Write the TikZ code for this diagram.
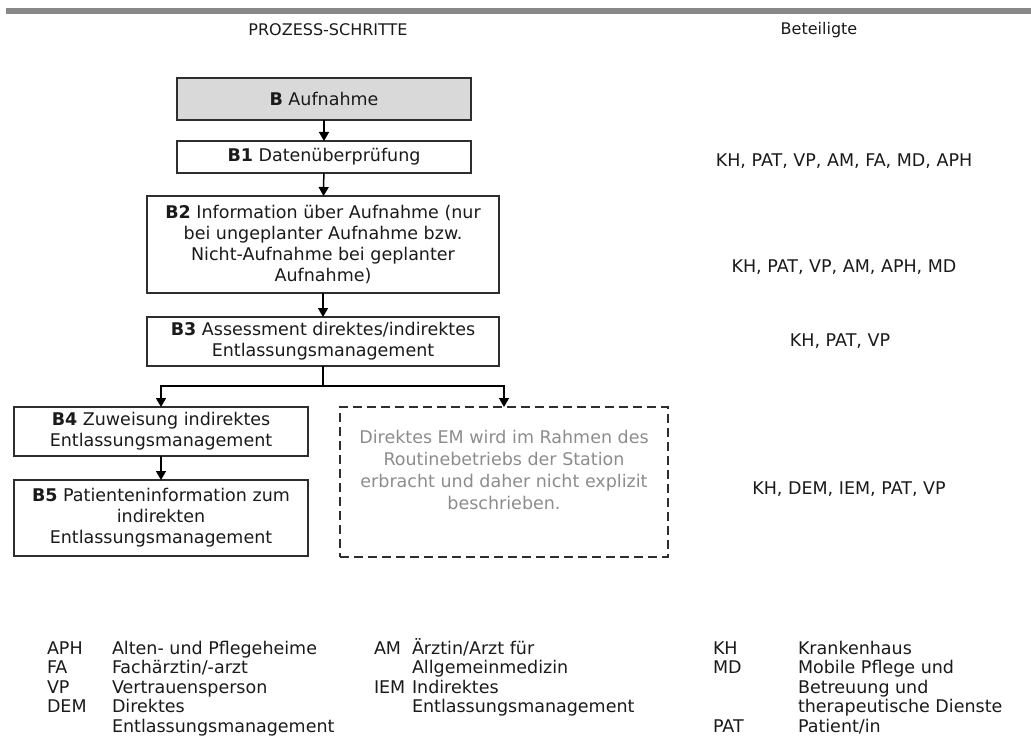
\documentclass[tikz,border=0pt]{standalone}
\usepackage{fontspec}
\setmainfont{DejaVu Sans}
\usetikzlibrary{arrows.meta}
\definecolor{ink}{HTML}{1A1A1A}
\definecolor{frame}{HTML}{2E2E2E}
\definecolor{topbar}{HTML}{888888}
\definecolor{note}{HTML}{8C8C8C}
\definecolor{headfill}{HTML}{D9D9D9}
\begin{document}
\begin{tikzpicture}[x=1pt,y=-1pt,
  every node/.style={inner sep=0pt, outer sep=0pt, text=ink},
  body/.style={font=\fontsize{17.5}{21}\selectfont},
  stepbox/.style={body, draw=frame, line width=1.5pt, align=center},
  notebox/.style={draw=frame, line width=1.5pt, dash pattern=on 9pt off 5pt},
  notetext/.style={font=\fontsize{17.5}{22}\selectfont, text=note, align=center},
  heading/.style={font=\fontsize{16}{19}\selectfont},
  party/.style={body, anchor=base},
  legend/.style={body, anchor=base west},
  link/.style={draw=black, line width=1.5pt},
  flow/.style={link, -{Triangle[length=9pt,width=10pt]}}
]
\useasboundingbox (0,0) rectangle (1031,749);

% top rule
\fill[topbar] (6,8) rectangle (1031,14);

% column headings
\node[heading] (hsteps) at (328,30) {PROZESS-SCHRITTE};
\node[heading] (hparty) at (819,30) {Beteiligte};

% process steps
\node[stepbox, fill=headfill, minimum width=294pt, minimum height=42pt] (b)  at (324,99)  {\textbf{B} Aufnahme};
\node[stepbox, minimum width=294pt, minimum height=32pt] (b1) at (324,157) {\textbf{B1} Datenüberprüfung};
\node[stepbox, minimum width=352pt, minimum height=97pt] (b2) at (323,244.5)
  {\textbf{B2} Information über Aufnahme (nur\\bei ungeplanter Aufnahme bzw.\\Nicht-Aufnahme bei geplanter\\Aufnahme)};
\node[stepbox, minimum width=352pt, minimum height=49pt] (b3) at (323,341.5)
  {\textbf{B3} Assessment direktes/indirektes\\Entlassungsmanagement};
\node[stepbox, minimum width=294pt, minimum height=49pt] (b4) at (161,431.5)
  {\textbf{B4} Zuweisung indirektes\\Entlassungsmanagement};
\node[stepbox, minimum width=294pt, minimum height=76pt] (b5) at (161,518)
  {\textbf{B5} Patienteninformation zum\\indirekten\\Entlassungsmanagement};
\node[notebox, minimum width=328pt, minimum height=150pt] (em) at (504,482) {};
\node[notetext] (emtext) at (504,470)
  {Direktes EM wird im Rahmen des\\Routinebetriebs der Station\\erbracht und daher nicht explizit\\beschrieben.};

% connectors
\draw[flow] (b) -- (b1);
\draw[flow] (b1) -- (b2);
\draw[flow] (b2) -- (b3);
\coordinate (split) at (b3.south |- 0,386);
\draw[link] (b3.south) -- (split);
\draw[flow] (split) -| (b4.north);
\draw[flow] (split) -| (em.north);
\draw[flow] (b4) -- (b5);

% parties involved
\node[party] (p1) at (844,167) {KH, PAT, VP, AM, FA, MD, APH};
\node[party] (p2) at (844,272) {KH, PAT, VP, AM, APH, MD};
\node[party] (p3) at (840,346) {KH, PAT, VP};
\node[party] (p4) at (849,494) {KH, DEM, IEM, PAT, VP};

% abbreviations
\node[legend] (aAPH) at (47,654)   {APH};
\node[legend] (tAPH) at (112,654)  {Alten- und Pflegeheime};
\node[legend] (aFA)  at (47,673.5) {FA};
\node[legend] (tFA)  at (112,673.5){Fachärztin/-arzt};
\node[legend] (aVP)  at (47,693)   {VP};
\node[legend] (tVP)  at (112,693)  {Vertrauensperson};
\node[legend] (aDEM) at (47,712.5) {DEM};
\node[legend] (tDEM) at (112,712.5){Direktes};
\node[legend] (tDEMb) at (112,732) {Entlassungsmanagement};

\node[legend] (aAM)  at (374,654)   {AM};
\node[legend] (tAM)  at (412,654)   {Ärztin/Arzt für};
\node[legend] (tAMb) at (412,673.5) {Allgemeinmedizin};
\node[legend] (aIEM) at (374,693)   {IEM};
\node[legend] (tIEM) at (412,693)   {Indirektes};
\node[legend] (tIEMb) at (412,712.5){Entlassungsmanagement};

\node[legend] (aKH)  at (713,654)   {KH};
\node[legend] (tKH)  at (798,654)   {Krankenhaus};
\node[legend] (aMD)  at (713,673.5) {MD};
\node[legend] (tMD)  at (798,673.5) {Mobile Pflege und};
\node[legend] (tMDb) at (798,693)   {Betreuung und};
\node[legend] (tMDc) at (798,712.5) {therapeutische Dienste};
\node[legend] (aPAT) at (713,732)   {PAT};
\node[legend] (tPAT) at (798,732)   {Patient/in};
\end{tikzpicture}
\end{document}
